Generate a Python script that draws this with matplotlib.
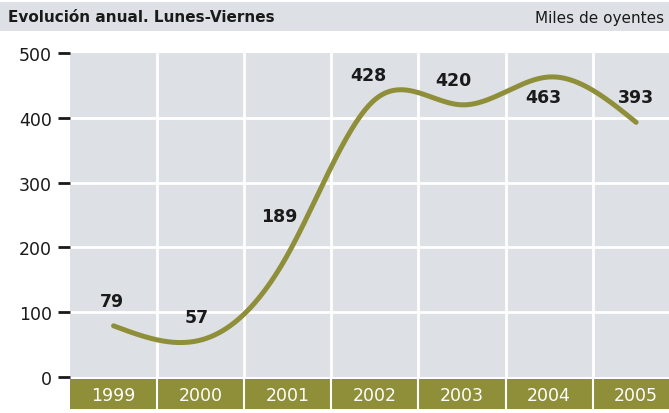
import numpy as np
import matplotlib.pyplot as plt
from matplotlib.patches import Rectangle

# ----------------------
# Datos
# ----------------------
years = ['1999', '2000', '2001', '2002', '2003', '2004', '2005']
oyentes = [79, 57, 189, 428, 420, 463, 393]
y_ticks = [0, 100, 200, 300, 400, 500]

title = 'Evolución anual. Lunes-Viernes'
unidad = 'Miles de oyentes'

bg = '#dde1e6'
olive = '#8f8f3a'
plt.rcParams['font.family'] = ['DejaVu Sans']


def natural_spline(x, y, xs):
    # spline cubico natural, sin scipy
    x = np.asarray(x, float)
    y = np.asarray(y, float)
    n = len(x)
    h = np.diff(x)
    A = np.zeros((n, n))
    b = np.zeros(n)
    A[0, 0] = A[-1, -1] = 1
    for i in range(1, n - 1):
        A[i, i - 1] = h[i - 1]
        A[i, i] = 2 * (h[i - 1] + h[i])
        A[i, i + 1] = h[i]
        b[i] = 3 * ((y[i + 1] - y[i]) / h[i] - (y[i] - y[i - 1]) / h[i - 1])
    c = np.linalg.solve(A, b)
    out = np.empty_like(xs)
    for k, xv in enumerate(xs):
        i = min(max(np.searchsorted(x, xv) - 1, 0), n - 2)
        dx = xv - x[i]
        bi = (y[i + 1] - y[i]) / h[i] - h[i] * (2 * c[i] + c[i + 1]) / 3
        di = (c[i + 1] - c[i]) / (3 * h[i])
        out[k] = y[i] + bi * dx + c[i] * dx ** 2 + di * dx ** 3
    return out


fig = plt.figure(figsize=(6.69, 4.14), dpi=100)
W, H = 669, 414

# banda del titulo
fig.patches.append(Rectangle((0, 1 - 32 / H), 1, 29 / H, transform=fig.transFigure,
                             facecolor=bg, edgecolor='none', zorder=0))
fig.text(8 / W, 1 - 18 / H, title, fontsize=11, fontweight='bold',
         color='#1a1a1a', va='center', ha='left')
fig.text(664 / W, 1 - 18 / H, unidad, fontsize=11,
         color='#1a1a1a', va='center', ha='right')

# ejes principales
left, right, top, bottom = 70, 669, 54, 378
col_w = 87.1
x_max = -0.5 + (right - left) / col_w
ax = fig.add_axes([left / W, 1 - bottom / H, (right - left) / W, (bottom - top) / H])
ax.set_facecolor(bg)
ax.set_xlim(-0.5, x_max)
ax.set_ylim(0, 500)
for s in ax.spines.values():
    s.set_visible(False)
ax.set_xticks([])
ax.set_yticks(y_ticks)
ax.set_yticklabels([str(v) for v in y_ticks], fontsize=12.5, color='#1a1a1a')
ax.tick_params(axis='y', length=9, width=2, color='#1a1a1a', pad=4)
for v in y_ticks[1:-1]:
    ax.axhline(v, color='white', lw=2, zorder=1)
for i in range(len(years) - 1):
    ax.axvline(i + 0.5, color='white', lw=2, zorder=1)

xs = np.arange(len(years))
xf = np.linspace(0, len(years) - 1, 300)
ax.plot(xf, natural_spline(xs, oyentes, xf), color=olive, lw=3.6,
        solid_capstyle='round', zorder=3)

# etiquetas de valores (desplazamiento en columnas / unidades de datos)
offsets = [(-0.02, 38), (-0.05, 36), (-0.1, 60), (-0.07, 38), (-0.1, 38), (-0.07, -31), (0, 39)]
for i, v in enumerate(oyentes):
    dx, dy = offsets[i]
    ax.text(i + dx, v + dy, str(v), fontsize=12.5, fontweight='bold',
            color='#1a1a1a', ha='center', va='center', zorder=4)

# banda de años
bx = fig.add_axes([left / W, 1 - 410 / H, (right - left) / W, 30 / H])
bx.set_xlim(-0.5, x_max)
bx.set_ylim(0, 1)
bx.axis('off')
bx.add_patch(Rectangle((-0.5, 0), x_max + 0.5, 1, facecolor=olive, edgecolor='none'))
for i in range(len(years) - 1):
    bx.axvline(i + 0.5, color='white', lw=1.5)
for i, y in enumerate(years):
    bx.text(i, 0.45, y, color='white', fontsize=12.5, ha='center', va='center')

plt.savefig('out.png', dpi=100)
